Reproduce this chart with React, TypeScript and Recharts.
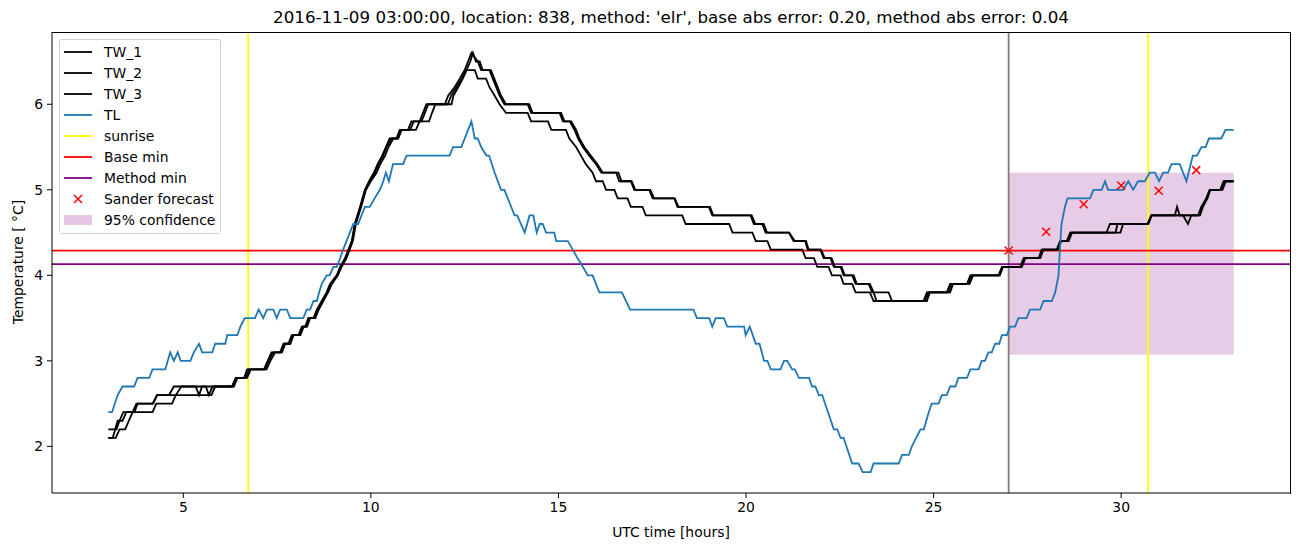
import React from 'react';
import {
  ComposedChart,
  Line,
  Scatter,
  XAxis,
  YAxis,
  ReferenceLine,
  ReferenceArea,
} from 'recharts';

// [hour, temperature] pairs
const TL: [number, number][] = [
  [3.0, 2.4], [3.1, 2.4], [3.25, 2.6], [3.38, 2.7], [3.69, 2.7], [3.78, 2.8], [4.09, 2.8], [4.18, 2.9],
  [4.52, 2.9], [4.65, 3.1], [4.75, 3.0], [4.85, 3.1], [4.93, 3.0], [5.19, 3.0], [5.28, 3.1], [5.42, 3.2],
  [5.5, 3.1], [5.77, 3.1], [5.85, 3.2], [6.12, 3.2], [6.17, 3.3], [6.44, 3.3], [6.52, 3.4], [6.64, 3.5],
  [6.91, 3.5], [7.01, 3.6], [7.13, 3.5], [7.23, 3.6], [7.4, 3.6], [7.49, 3.5], [7.58, 3.6], [7.76, 3.6],
  [7.85, 3.5], [8.2, 3.5], [8.29, 3.6], [8.38, 3.6], [8.47, 3.7], [8.56, 3.7], [8.62, 3.8], [8.69, 3.9],
  [8.82, 4.0], [8.9, 4.0], [9.0, 4.1], [9.09, 4.1], [9.18, 4.2], [9.26, 4.3], [9.35, 4.4], [9.44, 4.5],
  [9.53, 4.6], [9.66, 4.6], [9.75, 4.7], [9.84, 4.8], [9.97, 4.8], [10.1, 4.9], [10.24, 5.0], [10.33, 5.1],
  [10.4, 5.2], [10.48, 5.1], [10.59, 5.3], [10.86, 5.3], [10.95, 5.4], [12.1, 5.4], [12.19, 5.5], [12.41, 5.5],
  [12.68, 5.8], [12.77, 5.6], [12.85, 5.6], [12.94, 5.5], [13.08, 5.4], [13.15, 5.4], [13.3, 5.2], [13.47, 5.0],
  [13.56, 5.0], [13.65, 4.9], [13.83, 4.7], [13.9, 4.7], [14.1, 4.5], [14.23, 4.7], [14.33, 4.7], [14.42, 4.5],
  [14.5, 4.6], [14.58, 4.6], [14.67, 4.5], [14.89, 4.5], [14.94, 4.4], [15.25, 4.4], [15.38, 4.3], [15.51, 4.2],
  [15.65, 4.1], [15.78, 4.0], [15.91, 4.0], [16.09, 3.8], [16.69, 3.8], [16.8, 3.7], [16.91, 3.6], [18.6, 3.6],
  [18.69, 3.5], [19.02, 3.5], [19.1, 3.4], [19.19, 3.5], [19.41, 3.5], [19.5, 3.4], [19.95, 3.4], [19.99, 3.3],
  [20.1, 3.4], [20.26, 3.2], [20.36, 3.2], [20.48, 3.0], [20.57, 3.0], [20.66, 2.9], [20.92, 2.9], [21.01, 3.0],
  [21.1, 3.0], [21.23, 2.9], [21.3, 2.9], [21.41, 2.8], [21.68, 2.8], [21.76, 2.7], [21.85, 2.7], [21.94, 2.6],
  [22.03, 2.6], [22.34, 2.2], [22.43, 2.2], [22.52, 2.1], [22.6, 2.1], [22.83, 1.8], [23.0, 1.8], [23.11, 1.7],
  [23.32, 1.7], [23.4, 1.8], [24.07, 1.8], [24.16, 1.9], [24.34, 1.9], [24.42, 2.0], [24.65, 2.2], [24.74, 2.2],
  [24.87, 2.4], [24.95, 2.5], [25.13, 2.5], [25.22, 2.6], [25.35, 2.6], [25.44, 2.7], [25.58, 2.7], [25.66, 2.8],
  [25.89, 2.8], [25.98, 2.9], [26.2, 2.9], [26.28, 3.0], [26.37, 3.0], [26.46, 3.1], [26.55, 3.1], [26.64, 3.2],
  [26.75, 3.2], [26.82, 3.3], [26.95, 3.3], [27.04, 3.4], [27.17, 3.4], [27.26, 3.5], [27.48, 3.5], [27.57, 3.6],
  [27.84, 3.6], [27.93, 3.7], [28.15, 3.7], [28.24, 3.8], [28.33, 4.0], [28.37, 4.33], [28.41, 4.6], [28.5, 4.8],
  [28.57, 4.9], [29.17, 4.9], [29.26, 5.0], [29.48, 5.0], [29.57, 5.1], [29.65, 5.0], [30.05, 5.0], [30.19, 5.1],
  [30.32, 5.0], [30.45, 5.1], [30.63, 5.1], [30.76, 5.2], [30.9, 5.2], [31.01, 5.1], [31.12, 5.2], [31.25, 5.2],
  [31.34, 5.3], [31.56, 5.3], [31.74, 5.1], [31.91, 5.4], [32.02, 5.4], [32.14, 5.5], [32.25, 5.5], [32.34, 5.6],
  [32.67, 5.6], [32.78, 5.7], [33.0, 5.7],
];

const TW_1: [number, number][] = [
  [3.0, 2.2], [3.22, 2.2], [3.3, 2.3], [3.4, 2.4], [3.7, 2.4], [3.78, 2.5], [4.18, 2.5], [4.3, 2.6],
  [4.62, 2.6], [4.75, 2.7], [5.33, 2.7], [5.42, 2.6], [5.5, 2.7], [6.3, 2.7], [6.4, 2.8], [6.66, 2.8],
  [6.75, 2.9], [7.18, 2.9], [7.27, 3.0], [7.4, 3.1], [7.58, 3.1], [7.67, 3.2], [7.8, 3.2], [7.89, 3.3],
  [8.07, 3.3], [8.16, 3.4], [8.25, 3.4], [8.33, 3.5], [8.47, 3.5], [8.56, 3.6], [8.69, 3.7], [8.82, 3.8],
  [8.91, 3.9], [9.09, 4.0], [9.18, 4.1], [9.31, 4.2], [9.49, 4.4], [9.57, 4.6], [9.71, 4.8], [9.84, 5.0],
  [9.97, 5.1], [10.11, 5.2], [10.2, 5.3], [10.33, 5.4], [10.42, 5.5], [10.55, 5.6], [10.68, 5.6], [10.77, 5.7],
  [10.99, 5.7], [11.08, 5.8], [11.3, 5.8], [11.39, 5.9], [11.48, 6.0], [11.97, 6.0], [12.06, 6.1], [12.23, 6.2],
  [12.37, 6.3], [12.5, 6.4], [12.68, 6.6], [12.85, 6.5], [12.94, 6.4], [13.16, 6.4], [13.25, 6.3], [13.34, 6.2],
  [13.43, 6.1], [13.56, 6.0], [14.18, 6.0], [14.27, 5.9], [15.03, 5.9], [15.12, 5.8], [15.3, 5.8], [15.43, 5.7],
  [15.52, 5.6], [15.65, 5.5], [15.82, 5.4], [16.0, 5.3], [16.14, 5.2], [16.54, 5.2], [16.62, 5.1], [16.93, 5.1],
  [17.02, 5.0], [17.42, 5.0], [17.51, 4.9], [18.09, 4.9], [18.17, 4.8], [19.01, 4.8], [19.1, 4.7], [20.12, 4.7],
  [20.21, 4.6], [20.43, 4.6], [20.52, 4.5], [21.14, 4.5], [21.27, 4.4], [21.58, 4.4], [21.64, 4.3], [21.98, 4.3],
  [22.07, 4.2], [22.25, 4.2], [22.34, 4.1], [22.52, 4.1], [22.6, 4.0], [22.83, 4.0], [22.92, 3.9], [23.27, 3.9],
  [23.36, 3.8], [23.8, 3.8], [23.89, 3.7], [24.73, 3.7], [24.82, 3.8], [25.35, 3.8], [25.44, 3.9], [25.89, 3.9],
  [25.98, 4.0], [26.73, 4.0], [26.82, 4.1], [27.31, 4.1], [27.4, 4.2], [27.8, 4.2], [27.88, 4.3], [28.28, 4.3],
  [28.37, 4.4], [28.55, 4.4], [28.64, 4.5], [29.61, 4.5], [29.7, 4.6], [30.72, 4.6], [30.81, 4.7], [31.43, 4.7],
  [31.49, 4.8], [31.56, 4.7], [32.05, 4.7], [32.14, 4.8], [32.27, 4.9], [32.36, 5.0], [32.67, 5.0], [32.76, 5.1],
  [33.0, 5.1],
];

const TW_2: [number, number][] = [
  [3.0, 2.1], [3.12, 2.1], [3.25, 2.3], [3.38, 2.3], [3.48, 2.4], [4.18, 2.4], [4.28, 2.5], [4.7, 2.5],
  [4.8, 2.6], [4.95, 2.7], [5.6, 2.7], [5.68, 2.6], [5.78, 2.7], [6.35, 2.7], [6.44, 2.8], [6.7, 2.8],
  [6.8, 2.9], [7.22, 2.9], [7.32, 3.0], [7.45, 3.1], [7.63, 3.1], [7.72, 3.2], [7.85, 3.2], [7.94, 3.3],
  [8.12, 3.3], [8.21, 3.4], [8.3, 3.4], [8.38, 3.5], [8.52, 3.5], [8.61, 3.6], [8.73, 3.7], [8.86, 3.8],
  [8.96, 3.9], [9.12, 4.0], [9.22, 4.1], [9.35, 4.2], [9.52, 4.4], [9.6, 4.6], [9.74, 4.8], [9.87, 5.0],
  [10.0, 5.1], [10.15, 5.2], [10.25, 5.3], [10.38, 5.4], [10.47, 5.5], [10.6, 5.6], [10.73, 5.6], [10.82, 5.7],
  [11.05, 5.7], [11.14, 5.8], [11.35, 5.8], [11.44, 5.9], [11.53, 6.0], [12.05, 6.0], [12.14, 6.1], [12.28, 6.2],
  [12.42, 6.3], [12.55, 6.4], [12.65, 6.5], [12.72, 6.6], [12.8, 6.5], [12.9, 6.5], [12.98, 6.4], [13.2, 6.4],
  [13.29, 6.3], [13.38, 6.2], [13.47, 6.1], [13.6, 6.0], [14.22, 6.0], [14.31, 5.9], [15.07, 5.9], [15.16, 5.8],
  [15.34, 5.8], [15.47, 5.7], [15.56, 5.6], [15.69, 5.5], [15.86, 5.4], [16.04, 5.3], [16.18, 5.2], [16.6, 5.2],
  [16.68, 5.1], [16.95, 5.1], [17.05, 5.0], [17.45, 5.0], [17.55, 4.9], [18.1, 4.9], [18.2, 4.8], [19.04, 4.8],
  [19.13, 4.7], [20.15, 4.7], [20.25, 4.6], [20.47, 4.6], [20.56, 4.5], [21.15, 4.5], [21.3, 4.4], [21.6, 4.4],
  [21.67, 4.3], [22.0, 4.3], [22.1, 4.2], [22.28, 4.2], [22.37, 4.1], [22.55, 4.1], [22.63, 4.0], [22.87, 4.0],
  [22.95, 3.9], [23.3, 3.9], [23.4, 3.8], [23.48, 3.7], [24.78, 3.7], [24.86, 3.8], [25.4, 3.8], [25.48, 3.9],
  [25.93, 3.9], [26.02, 4.0], [26.76, 4.0], [26.85, 4.1], [27.35, 4.1], [27.44, 4.2], [27.84, 4.2], [27.92, 4.3],
  [28.3, 4.3], [28.4, 4.4], [28.58, 4.4], [28.67, 4.5], [29.85, 4.5], [29.9, 4.6], [30.7, 4.6], [30.8, 4.7],
  [32.1, 4.7], [32.18, 4.8], [32.3, 4.9], [32.38, 5.0], [32.7, 5.0], [32.79, 5.1], [33.0, 5.1],
];

const TW_3: [number, number][] = [
  [3.0, 2.1], [3.2, 2.1], [3.3, 2.2], [3.45, 2.2], [3.55, 2.3], [3.65, 2.4], [3.75, 2.5], [4.2, 2.5],
  [4.3, 2.6], [5.75, 2.6], [5.85, 2.7], [6.3, 2.7], [6.4, 2.8], [6.62, 2.8], [6.7, 2.9], [7.15, 2.9],
  [7.25, 3.0], [7.35, 3.1], [7.6, 3.1], [7.7, 3.2], [7.85, 3.2], [7.92, 3.3], [8.1, 3.3], [8.18, 3.4],
  [8.28, 3.4], [8.36, 3.5], [8.5, 3.5], [8.6, 3.6], [8.72, 3.7], [8.84, 3.8], [8.94, 3.9], [9.1, 4.0],
  [9.2, 4.1], [9.33, 4.2], [9.5, 4.4], [9.58, 4.6], [9.72, 4.8], [9.85, 5.0], [9.95, 5.1], [10.08, 5.2],
  [10.18, 5.3], [10.3, 5.4], [10.4, 5.5], [10.5, 5.6], [10.7, 5.6], [10.8, 5.7], [11.2, 5.7], [11.3, 5.8],
  [11.55, 5.8], [11.63, 5.9], [11.72, 6.0], [12.15, 6.0], [12.2, 6.1], [12.33, 6.2], [12.45, 6.3], [12.55, 6.4],
  [12.77, 6.4], [12.85, 6.3], [13.07, 6.3], [13.16, 6.2], [13.3, 6.1], [13.43, 6.0], [13.6, 5.9], [14.18, 5.9],
  [14.27, 5.8], [14.72, 5.8], [14.81, 5.7], [15.2, 5.7], [15.29, 5.6], [15.47, 5.5], [15.6, 5.4], [15.73, 5.3],
  [15.91, 5.2], [16.0, 5.1], [16.18, 5.1], [16.27, 5.0], [16.49, 5.0], [16.58, 4.9], [16.84, 4.9], [16.93, 4.8],
  [17.24, 4.8], [17.33, 4.7], [18.3, 4.7], [18.39, 4.6], [19.55, 4.6], [19.64, 4.5], [20.17, 4.5], [20.26, 4.4],
  [20.57, 4.4], [20.66, 4.3], [21.5, 4.3], [21.59, 4.2], [21.81, 4.2], [21.9, 4.1], [22.2, 4.1], [22.29, 4.0],
  [22.52, 4.0], [22.6, 3.9], [22.83, 3.9], [22.92, 3.8], [23.3, 3.8], [23.4, 3.7], [24.82, 3.7], [24.9, 3.8],
  [25.44, 3.8], [25.52, 3.9], [25.96, 3.9], [26.05, 4.0], [26.76, 4.0], [26.85, 4.1], [27.35, 4.1], [27.44, 4.2],
  [27.84, 4.2], [27.92, 4.3], [28.32, 4.3], [28.4, 4.4], [28.6, 4.4], [28.69, 4.5], [29.98, 4.5], [30.05, 4.6],
  [30.72, 4.6], [30.81, 4.7], [31.65, 4.7], [31.78, 4.6], [31.87, 4.7], [32.05, 4.7], [32.14, 4.8], [32.27, 4.9],
  [32.36, 5.0], [32.64, 5.0], [32.73, 5.1], [33.0, 5.1],
];

const forecastHours = [27, 28, 29, 30, 31, 32];
const forecastValues = [4.29, 4.51, 4.83, 5.05, 4.99, 5.23];

const sunriseHours = [6.73, 30.72];
const forecastStart = 27;
const baseMin = 4.29;
const methodMin = 4.13;
const confidence = { x1: 27, x2: 33, y1: 3.07, y2: 5.2 };

const xDomain = [1.5, 34.5];
const yDomain = [1.455, 6.845];
const xTicks = [5, 10, 15, 20, 25, 30];
const yTicks = [2, 3, 4, 5, 6];

const title =
  "2016-11-09 03:00:00, location: 838, method: 'elr', base abs error: 0.20, method abs error: 0.04";

const legendItems = [
  { label: 'TW_1', color: '#000000', kind: 'line' },
  { label: 'TW_2', color: '#000000', kind: 'line' },
  { label: 'TW_3', color: '#000000', kind: 'line' },
  { label: 'TL', color: '#1f77b4', kind: 'line' },
  { label: 'sunrise', color: '#ffff00', kind: 'line' },
  { label: 'Base min', color: '#ff0000', kind: 'line' },
  { label: 'Method min', color: '#800080', kind: 'line' },
  { label: 'Sander forecast', color: '#ff0000', kind: 'x' },
  { label: '95% confidence', color: 'rgba(128,0,128,0.22)', kind: 'patch' },
];

const toPts = (arr: [number, number][]) => arr.map(([t, v]) => ({ t, v }));
const forecast = forecastHours.map((t, i) => ({ t, v: forecastValues[i] }));

const FONT = '"DejaVu Sans", sans-serif';
const FS = 13.9;
const tickStyle = { fill: '#000', fontSize: FS, fontFamily: FONT };

const XMark = (props: any) => {
  const { cx, cy } = props;
  if (cx == null || cy == null) return null;
  const s = 4;
  return (
    <g stroke="#ff0000" strokeWidth={1.5}>
      <line x1={cx - s} y1={cy - s} x2={cx + s} y2={cy + s} />
      <line x1={cx - s} y1={cy + s} x2={cx + s} y2={cy - s} />
    </g>
  );
};

function LegendBox() {
  return (
    <div
      style={{
        position: 'absolute',
        left: 59,
        top: 39,
        width: 162,
        padding: '1px 0 2px 0',
        border: '1px solid #d0d0d0',
        borderRadius: 3,
        background: 'rgba(255,255,255,0.8)',
        fontFamily: FONT,
        fontSize: FS,
        boxSizing: 'border-box',
      }}
    >
      {legendItems.map((it) => (
        <div key={it.label} style={{ display: 'flex', alignItems: 'center', height: 21.1 }}>
          <svg width={44} height={14} style={{ flex: 'none' }}>
            {it.kind === 'line' && (
              <line x1={4} y1={7} x2={32} y2={7} stroke={it.color} strokeWidth={1.8} />
            )}
            {it.kind === 'x' && (
              <g stroke={it.color} strokeWidth={1.5}>
                <line x1={14} y1={3} x2={22} y2={11} />
                <line x1={14} y1={11} x2={22} y2={3} />
              </g>
            )}
            {it.kind === 'patch' && <rect x={4} y={2} width={28} height={10} fill={it.color} />}
          </svg>
          <span style={{ color: '#000', whiteSpace: 'nowrap' }}>{it.label}</span>
        </div>
      ))}
    </div>
  );
}

export default function App() {
  const lines = [
    { name: 'TW_1', data: toPts(TW_1), color: '#000000' },
    { name: 'TW_2', data: toPts(TW_2), color: '#000000' },
    { name: 'TW_3', data: toPts(TW_3), color: '#000000' },
    { name: 'TL', data: toPts(TL), color: '#1f77b4' },
  ];

  return (
    <div style={{ position: 'absolute', left: 0, top: 0, width: 1302, height: 547, background: '#fff' }}>
      <div
        style={{
          position: 'absolute',
          left: 0,
          width: 1342,
          top: 7,
          textAlign: 'center',
          fontFamily: FONT,
          fontSize: 16.7,
          lineHeight: '20px',
          color: '#000',
          whiteSpace: 'nowrap',
        }}
      >
        {title}
      </div>
      <ComposedChart width={1302} height={547} margin={{ top: 32, right: 12, bottom: 0, left: 12 }}>
        <XAxis
          type="number"
          dataKey="t"
          domain={xDomain}
          ticks={xTicks}
          allowDataOverflow
          height={54}
          stroke="#000"
          tickSize={5}
          tickMargin={4}
          tick={tickStyle}
          label={{
            value: 'UTC time [hours]',
            position: 'insideBottom',
            offset: 10,
            style: { fill: '#000', fontSize: FS, fontFamily: FONT },
          }}
        />
        <YAxis
          type="number"
          domain={yDomain}
          ticks={yTicks}
          allowDataOverflow
          width={40}
          stroke="#000"
          tickSize={5}
          tickMargin={4}
          tick={tickStyle}
          label={{
            content: () => (
              <text
                x={18}
                y={262}
                transform="rotate(-90 18 262)"
                textAnchor="middle"
                dominantBaseline="central"
                style={{ fill: '#000', fontSize: FS, fontFamily: FONT }}
              >
                Temperature [ °C]
              </text>
            ),
          }}
        />

        <ReferenceArea
          x1={confidence.x1}
          x2={confidence.x2}
          y1={confidence.y1}
          y2={confidence.y2}
          fill="#800080"
          fillOpacity={0.2}
          stroke="none"
        />
        {sunriseHours.map((h) => (
          <ReferenceLine key={h} x={h} stroke="#ffff00" strokeWidth={1.8} />
        ))}
        <ReferenceLine x={forecastStart} stroke="#808080" strokeWidth={1.8} />
        <ReferenceLine y={baseMin} stroke="#ff0000" strokeWidth={1.8} />
        <ReferenceLine y={methodMin} stroke="#800080" strokeWidth={1.8} />

        {lines.map((l) => (
          <Line
            key={l.name}
            name={l.name}
            data={l.data}
            dataKey="v"
            type="linear"
            stroke={l.color}
            strokeWidth={1.8}
            dot={false}
            activeDot={false}
            isAnimationActive={false}
          />
        ))}
        <Scatter name="Sander forecast" data={forecast} dataKey="v" shape={<XMark />} isAnimationActive={false} />
      </ComposedChart>
      {/* axes frame (top and right spines) */}
      <div
        style={{
          position: 'absolute',
          left: 52,
          top: 32,
          width: 1238,
          height: 461,
          border: '1px solid #000',
          borderLeft: 'none',
          borderBottom: 'none',
          pointerEvents: 'none',
        }}
      />
      <LegendBox />
    </div>
  );
}
